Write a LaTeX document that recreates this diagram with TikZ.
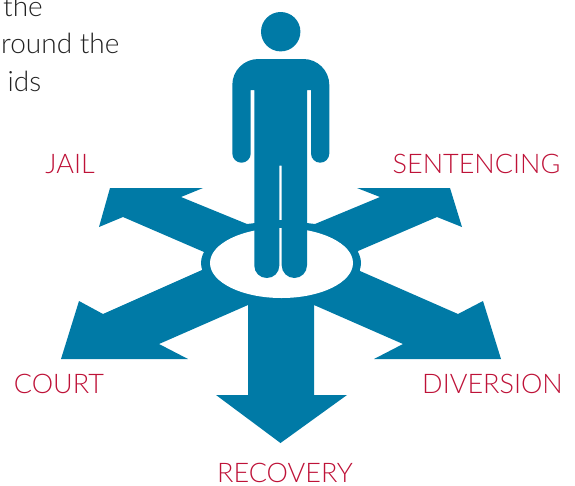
\documentclass[tikz,border=0pt]{standalone}
\usepackage{fontspec}
\setmainfont{Lato Light}
\definecolor{armblue}{HTML}{007AA6}
\definecolor{labelred}{HTML}{BE1238}
\definecolor{bodygrey}{HTML}{222222}

\begin{document}
\begin{tikzpicture}[x=1pt, y=-1pt, inner sep=0pt,
    route label/.style={text=labelred,font=\fontsize{27}{30}\selectfont,anchor=base},
    intro text/.style={text=bodygrey,font=\fontsize{28}{32}\selectfont,anchor=base west},
    figure fill/.style={fill=armblue,draw=none},]

\useasboundingbox (0,0) rectangle (575,485);
\clip (0,0) rectangle (575,485);

% intro text, cut off by the page
\node[intro text] (line1) at (3,16) {the};
\node[intro text] (line2) at (1,53) {round the};
\node[intro text] (line3) at (7.5,91) {ids};

% arrows
\fill[figure fill] (281,263) ellipse [x radius=80, y radius=40];
\fill[figure fill] (247,224) -- (181,197) -- (203,188) -- (110,188) -- (99,227) -- (123,217)
  -- (204,252) -- (202,270) -- (103,314) -- (79,301) -- (61,359) -- (188,359) -- (159,344)
  -- (248,305) -- (248,395) -- (216,395) -- (280.5,443) -- (347,395) -- (314,395) -- (314,305)
  -- (403,344) -- (374,359) -- (501,359) -- (483,301) -- (458,314) -- (360,271) -- (358,251)
  -- (437,217) -- (462,227) -- (450,188) -- (357,188) -- (380,197) -- (315,224)
  -- (281,220) -- cycle;
\fill[white] (281.5,263) ellipse [x radius=71.5, y radius=35];

% person
\fill[figure fill] (280.7,31.7) circle [radius=19.7];
\fill[figure fill] (254.3,90) -- (250.7,90) -- (250.7,153.5)
  .. controls (250.7,158.6) and (246.6,162.7) .. (241.5,162.7)
  .. controls (236.4,162.7) and (232.3,158.6) .. (232.3,153.5) -- (232.3,85)
  .. controls (232.3,70.6) and (243.9,59) .. (258.3,59) -- (303.3,59)
  .. controls (317.7,59) and (329.3,70.6) .. (329.3,85) -- (329.3,153.5)
  .. controls (329.3,158.6) and (325.2,162.7) .. (320.15,162.7)
  .. controls (315.1,162.7) and (311,158.6) .. (311,153.5) -- (311,90) -- (307,90) -- (307,265.4)
  .. controls (307,272.4) and (301.4,278) .. (294.4,278)
  .. controls (287.4,278) and (281.7,272.4) .. (281.7,265.4) -- (281.7,165.7) -- (279.3,165.7) -- (279.3,265.7)
  .. controls (279.3,272.5) and (273.8,278) .. (266.8,278)
  .. controls (259.8,278) and (254.3,272.5) .. (254.3,265.7) -- cycle;

% labels
\node[route label] (jail) at (70,173) {JAIL};
\node[route label] (sentencing) at (476.5,173) {SENTENCING};
\node[route label] (court) at (59,393) {COURT};
\node[route label] (diversion) at (492.5,393) {DIVERSION};
\node[route label] (recovery) at (285,482.5) {RECOVERY};

\end{tikzpicture}
\end{document}
